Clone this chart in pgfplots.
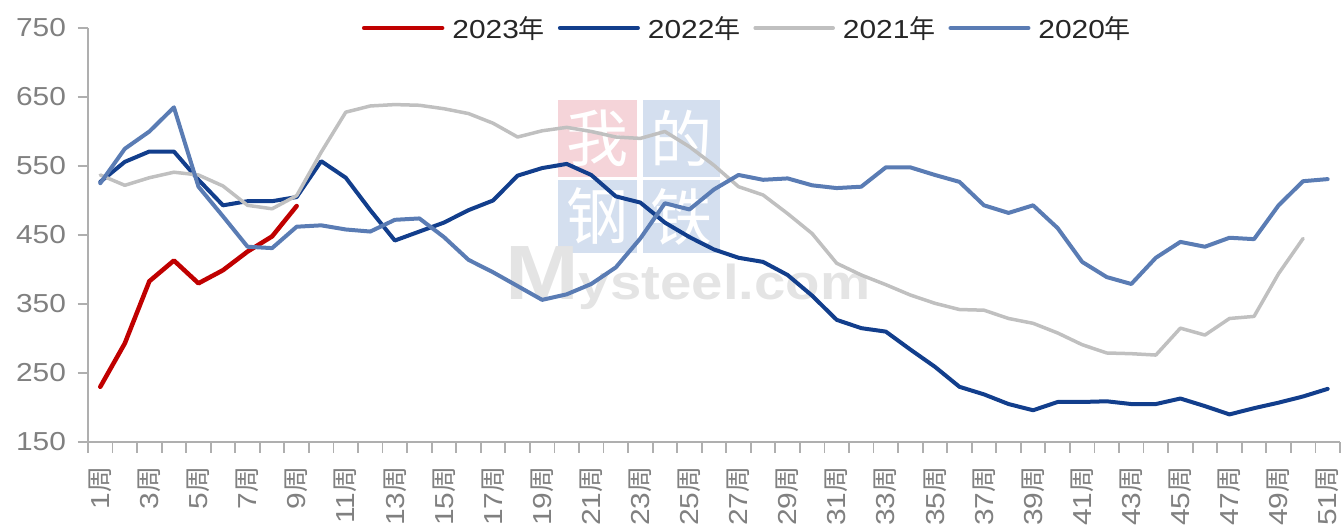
\documentclass[border=0pt]{standalone}
\usepackage{fontspec}
\setmainfont{Liberation Sans}[FakeStretch=1.15]
\newfontfamily\cjk{Noto Sans CJK SC}
\usepackage{pgfplots}
\pgfplotsset{compat=1.18}

\definecolor{c2023}{RGB}{192,0,0}
\definecolor{c2022}{RGB}{18,62,140}
\definecolor{c2021}{RGB}{192,192,192}
\definecolor{c2020}{RGB}{90,124,180}
\definecolor{axisgray}{RGB}{175,175,175}
\definecolor{labelgray}{RGB}{128,128,128}
\definecolor{wmpink}{RGB}{245,212,217}
\definecolor{wmblue}{RGB}{212,223,239}
\definecolor{wmgray}{RGB}{228,228,228}

\newcommand\zhou{{\cjk 周}}
\newcommand\nian{{\cjk 年}}

\begin{document}
\begin{tikzpicture}
\useasboundingbox (0bp,0bp) rectangle (1342bp,529bp);

% watermark
\fill[wmpink] (558bp,352bp) rectangle (637bp,429bp);
\fill[wmblue] (643bp,352bp) rectangle (720bp,429bp);
\fill[wmblue] (558bp,276bp) rectangle (637bp,349bp);
\fill[wmblue] (643bp,276bp) rectangle (720bp,349bp);
\node[white,font=\cjk\fontsize{62bp}{62bp}\selectfont] at (597.5bp,390.5bp) {我};
\node[white,font=\cjk\fontsize{62bp}{62bp}\selectfont] at (681.5bp,390.5bp) {的};
\node[white,font=\cjk\fontsize{62bp}{62bp}\selectfont] at (597.5bp,312.5bp) {钢};
\node[white,font=\cjk\fontsize{62bp}{62bp}\selectfont] at (681.5bp,312.5bp) {铁};
\node[wmgray,anchor=base west,inner sep=0pt,font=\bfseries] at (505bp,229bp)
  {\fontsize{77bp}{77bp}\selectfont M\fontsize{49bp}{49bp}\selectfont ysteel.com};

\begin{axis}[
    at={(88bp,87bp)}, anchor=south west,
    width=1252bp, height=414bp, scale only axis,
    xmin=0.5, xmax=51.5, ymin=150, ymax=750,
    axis x line*=bottom, axis y line*=left,
    axis line style={draw=axisgray, line width=2bp, -},
    tick align=outside,
    major tick length=10.5bp,
    tick style={draw=axisgray, line width=1.8bp},
    ytick={150,250,...,750},
    xtick={0.5,1.5,...,51.5},
    xticklabels={},
    extra x ticks={1,3,...,51},
    extra x tick labels={1\zhou,3\zhou,5\zhou,7\zhou,9\zhou,11\zhou,13\zhou,15\zhou,17\zhou,
      19\zhou,21\zhou,23\zhou,25\zhou,27\zhou,29\zhou,31\zhou,33\zhou,35\zhou,
      37\zhou,39\zhou,41\zhou,43\zhou,45\zhou,47\zhou,49\zhou,51\zhou},
    extra x tick style={major tick length=0pt,
      xticklabel style={rotate=90, anchor=east, xshift=-21bp, overlay}},
    /pgf/number format/assume math mode=true,
    tick label style={font=\fontsize{26bp}{30bp}\selectfont, text=labelgray},
    yticklabel style={anchor=east, xshift=-8bp},
    every axis plot/.append style={line join=round, line cap=round},
    legend columns=4,
    legend image code/.code={\draw[#1] (0bp,0bp) -- (78bp,0bp);},
    legend style={at={(0.2188,1)}, anchor=west, draw=none, fill=none,
      inner sep=0pt, outer sep=0pt,
      font=\fontsize{26bp}{30bp}\selectfont, text=black!85,
      nodes={inner sep=0pt},
      /tikz/every odd column/.append style={column sep=8bp},
      /tikz/every even column/.append style={column sep=13bp}},
  ]
\addplot[c2023, line width=4.5bp] coordinates {
  (1,230) (2,293) (3,383) (4,413) (5,380) (6,399) (7,426) (8,448) (9,492)};
\addlegendentry{2023\nian}
\addplot[c2022, line width=4bp] coordinates {
  (1,527) (2,556) (3,571) (4,571) (5,530) (6,493) (7,499) (8,499) (9,505) (10,557)
  (11,533) (12,486) (13,442) (14,455) (15,468) (16,486) (17,500) (18,536) (19,547) (20,553)
  (21,537) (22,506) (23,497) (24,468) (25,447) (26,429) (27,417) (28,411) (29,392) (30,362)
  (31,327) (32,315) (33,310) (34,284) (35,259) (36,230) (37,219) (38,205) (39,196) (40,208)
  (41,208) (42,209) (43,205) (44,205) (45,213) (46,202) (47,190) (48,199) (49,207) (50,216)
  (51,227)};
\addlegendentry{2022\nian}
\addplot[c2021, line width=3.5bp] coordinates {
  (1,537) (2,522) (3,533) (4,541) (5,537) (6,521) (7,493) (8,488) (9,507) (10,570)
  (11,628) (12,637) (13,639) (14,638) (15,633) (16,626) (17,612) (18,592) (19,601) (20,606)
  (21,600) (22,592) (23,590) (24,600) (25,578) (26,551) (27,520) (28,508) (29,481) (30,452)
  (31,409) (32,392) (33,378) (34,363) (35,351) (36,342) (37,341) (38,329) (39,322) (40,308)
  (41,291) (42,279) (43,278) (44,276) (45,315) (46,305) (47,329) (48,332) (49,394) (50,445)};
\addlegendentry{2021\nian}
\addplot[c2020, line width=4bp] coordinates {
  (1,525) (2,575) (3,600) (4,635) (5,520) (6,477) (7,433) (8,431) (9,462) (10,464)
  (11,458) (12,455) (13,472) (14,474) (15,447) (16,414) (17,396) (18,376) (19,356) (20,364)
  (21,379) (22,403) (23,445) (24,496) (25,487) (26,516) (27,537) (28,530) (29,532) (30,522)
  (31,518) (32,520) (33,548) (34,548) (35,537) (36,527) (37,493) (38,482) (39,493) (40,460)
  (41,411) (42,389) (43,379) (44,417) (45,440) (46,433) (47,446) (48,444) (49,493) (50,528)
  (51,531)};
\addlegendentry{2020\nian}
\end{axis}
\end{tikzpicture}
\end{document}
